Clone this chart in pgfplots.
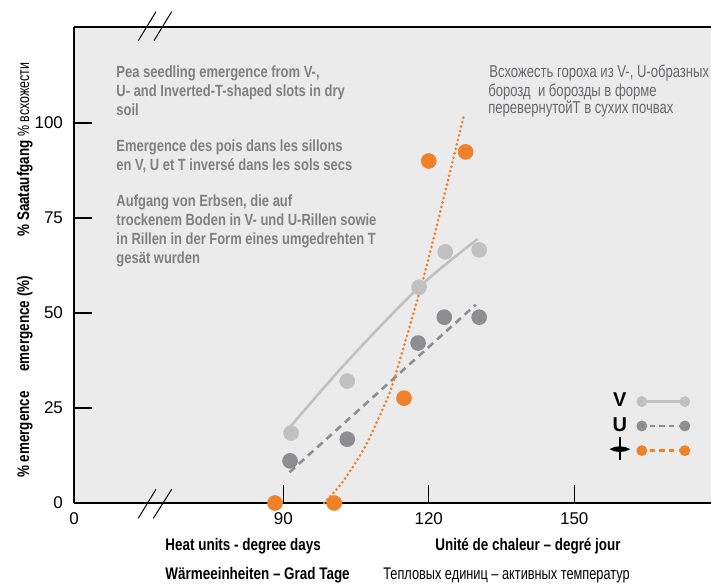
\documentclass[border=0pt]{standalone}
\usepackage{fontspec}
\setmainfont{Liberation Sans}
\newfontfamily\cnd[FakeStretch=0.80]{Liberation Sans}
\newfontfamily\rcnd[FakeStretch=0.76]{Liberation Sans}
\usepackage{pgfplots}
\pgfplotsset{compat=1.18}

\definecolor{bgc}{HTML}{EBEBEB}
\definecolor{vcol}{HTML}{C1C1C2}
\definecolor{ucol}{HTML}{8E8E90}
\definecolor{tcol}{HTML}{F0802A}
\definecolor{txt}{HTML}{808082}
\definecolor{rus}{HTML}{67686B}

% inverted-T slot symbol for the legend
\newcommand\tsym{\tikz[baseline=-3.6pt]{%
  \path[use as bounding box] (-5.2pt,-3.6pt) rectangle (5.2pt,3.6pt);
  \draw[line width=1pt] (0,-5.5pt) -- (0,6.2pt);
  \fill (-5.2pt,0) .. controls (-2pt,1.9pt) and (2pt,1.9pt) .. (5.2pt,0)
        .. controls (2pt,-1.9pt) and (-2pt,-1.9pt) .. (-5.2pt,0) -- cycle;}}

\tikzset{
  blk/.style={anchor=base west, inner sep=0pt, text=txt, font=\fontsize{8.1}{9.5}\cnd\bfseries},
  rbl/.style={anchor=base west, inner sep=0pt, text=rus, font=\fontsize{8.6}{9.5}\rcnd},
  ylab/.style={rotate=90, anchor=base west, inner sep=0pt, font=\fontsize{8.4}{8.4}\cnd\bfseries},
  xlab/.style={anchor=base west, inner sep=0pt, font=\fontsize{8.4}{8.4}\cnd\bfseries},
}

\begin{document}
\begin{tikzpicture}
\begin{axis}[
    scale only axis,
    width=318.5pt, height=238pt,
    xmin=46.85, xmax=178.2,
    ymin=0, ymax=125.26,
    enlargelimits=false,
    clip=false,
    axis x line*=box,
    axis y line*=left,
    axis line style={line width=0.75pt},
    axis background/.style={fill=bgc},
    xtick={46.85,90,120,150},
    xticklabels={0,90,120,150},
    xtick pos=lower,
    ytick={0,25,50,75,100},
    tick align=inside,
    major tick length=9pt,
    major tick style={line width=0.6pt, black},
    minor tick num=0,
    /pgf/number format/assume math mode=true,
    tick label style={font=\fontsize{8.5}{8.5}\selectfont},
    yticklabel style={xshift=-2pt},
    xticklabel style={yshift=-1.5pt},
    legend plot pos=right,
    legend style={at={(axis cs:174.0,29.26)}, anchor=north east,
        draw=none, fill=none, inner sep=0pt, row sep=2.8pt, column sep=2.6pt,
        font=\fontsize{10}{10}\selectfont\bfseries, nodes={inner sep=0.5pt},
        cells={anchor=center}},
]

% measured points
\addplot[only marks, mark=*, mark size=3.7pt, color=vcol, forget plot]
    coordinates {(91.6,18.4) (103.2,32.1) (118,56.8) (123.4,66.1) (130.4,66.6)};
\addplot[only marks, mark=*, mark size=3.7pt, color=ucol, forget plot]
    coordinates {(91.4,11.1) (103.2,16.8) (117.8,42.1) (123.2,48.9) (130.4,48.9)};
\addplot[only marks, mark=*, mark size=3.7pt, color=tcol, forget plot]
    coordinates {(88.3,0) (100.5,0) (114.9,27.6) (120,90) (127.6,92.4)};

% fitted curves
\addplot[vcol, line width=1.3pt, smooth, forget plot]
    coordinates {(91.4,20) (103.3,37.4) (118,56.8) (130.1,69.5)};
\addplot[ucol, line width=1.3pt, dash pattern=on 3.6pt off 2.6pt, forget plot]
    coordinates {(91.3,8.1) (129.7,52.2)};
\addplot[tcol, line width=1.5pt, line cap=round, dash pattern=on 0pt off 2.3pt, smooth, forget plot]
    coordinates {(98.45,0) (102.5,6.0) (106.85,14.8) (110.1,23.6) (112.7,31.9) (118.8,58.8) (123,79.9) (127.3,102.3)};

% legend
\addlegendimage{legend image code/.code={
    \draw[vcol, line width=1.3pt] (0pt,0pt) -- (21.5pt,0pt);
    \fill[vcol] (0pt,0pt) circle (2.5pt) (21.5pt,0pt) circle (2.5pt);}}
\addlegendentry{V}
\addlegendimage{legend image code/.code={
    \draw[ucol, line width=1.3pt, dash pattern=on 2.6pt off 2.2pt, dash phase=-4pt] (0pt,0pt) -- (21.5pt,0pt);
    \fill[ucol] (0pt,0pt) circle (2.5pt) (21.5pt,0pt) circle (2.5pt);}}
\addlegendentry{U}
\addlegendimage{legend image code/.code={
    \draw[tcol, line width=1.3pt, dash pattern=on 2.6pt off 2.2pt, dash phase=-4pt] (0pt,0pt) -- (21.5pt,0pt);
    \fill[tcol] (0pt,0pt) circle (2.5pt) (21.5pt,0pt) circle (2.5pt);}}
\addlegendentry{\tsym}

% axis break marks
\draw[line width=0.5pt] (axis cs:60.1,-4.03) -- (axis cs:63.75,3.6)
                        (axis cs:63.2,-4.03) -- (axis cs:66.99,3.6)
                        (axis cs:60.1,121.66) -- (axis cs:63.75,129.3)
                        (axis cs:63.34,121.66) -- (axis cs:66.99,129.3);

% title blocks
\node[blk] at (axis cs:55.53,112.1) {Pea seedling emergence from V-,};
\node[blk] at (axis cs:55.53,107.1) {U- and Inverted-T-shaped slots in dry};
\node[blk] at (axis cs:55.53,102.1) {soil};
\node[blk] at (axis cs:55.53,92.37) {Emergence des pois dans les sillons};
\node[blk] at (axis cs:55.53,87.37) {en V, U et T inversé dans les sols secs};
\node[blk] at (axis cs:55.53,78.16) {Aufgang von Erbsen, die auf};
\node[blk] at (axis cs:55.53,73.16) {trockenem Boden in V- und U-Rillen sowie};
\node[blk] at (axis cs:55.53,68.16) {in Rillen in der Form eines umgedrehten T};
\node[blk] at (axis cs:55.53,63.16) {gesät wurden};

\node[rbl] at (axis cs:132.4,112.1) {Всхожесть гороха из V-, U-образных};
\node[rbl] at (axis cs:132.2,107.1) {борозд\ \ и борозды в форме};
\node[rbl] at (axis cs:132.2,102.4) {перевернутойТ в сухих почвах};

% axis titles
\node[xlab] at (axis cs:65.63,-12.37) {Heat units - degree days};
\node[xlab] at (axis cs:121.28,-12.37) {Unité de chaleur – degré jour};
\node[xlab] at (axis cs:65.63,-20.0) {Wärmeeinheiten – Grad Tage};
\node[xlab, font=\fontsize{8.4}{8.4}\rcnd] at (axis cs:110.55,-20.0) {Тепловых единиц – активных температур};

\node[ylab] at (axis cs:37.57,6.5) {\% emergence};
\node[ylab] at (axis cs:37.57,34.5) {emergence (\%)};
\node[ylab] at (axis cs:37.57,70.0) {\% Saataufgang};
\node[ylab, font=\fontsize{8.2}{8.2}\rcnd] at (axis cs:37.57,96.3) {\% всхожести};

\coordinate (bbA) at (axis cs:31.59,132.37);
\coordinate (bbB) at (axis cs:178.2,-21.58);
\end{axis}
\pgfresetboundingbox
\useasboundingbox (bbA) rectangle (bbB);
\end{tikzpicture}
\end{document}
